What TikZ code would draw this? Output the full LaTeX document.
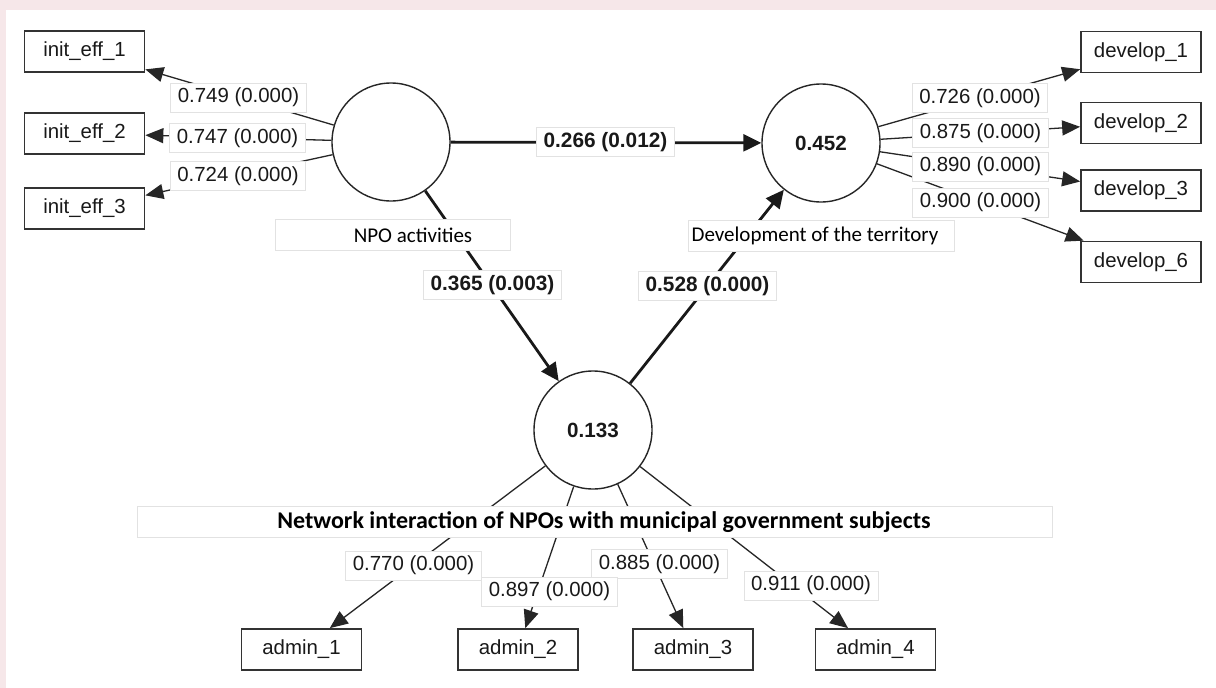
\documentclass[tikz,border=0pt]{standalone}
\usepackage{fontspec}
\setmainfont{Liberation Sans}
\newfontfamily\calfont{Carlito}
\usetikzlibrary{arrows.meta}
\definecolor{pinkbg}{RGB}{246,231,233}
\definecolor{lblborder}{RGB}{226,226,226}
\begin{document}
\begin{tikzpicture}[x=1pt,y=-1pt,
  every node/.style={font=\fontsize{20.4}{24}\selectfont, text=black!90},
  ind/.style={draw=black!80, line width=1.7pt, fill=white, minimum width=120pt, minimum height=41pt, inner sep=0pt},
  lv/.style={circle, draw=black!85, line width=1.4pt, fill=white, minimum size=118pt, inner sep=0pt, font=\fontsize{20.6}{24}\selectfont\bfseries},
  lbl/.style={draw=lblborder, line width=0.8pt, fill=white, inner xsep=7pt, inner ysep=0pt, minimum height=29pt},
  blbl/.style={lbl, font=\fontsize{20.8}{24}\selectfont\bfseries},
  load/.style={line width=1.3pt, draw=black!85, -{Triangle[length=18pt,width=15pt]}},
  struct/.style={line width=2.8pt, draw=black!90, -{Triangle[length=18pt,width=17pt]}},
  namebox/.style={draw=lblborder, line width=0.8pt, fill=white, inner sep=0pt, minimum height=31pt, font=\calfont\fontsize{21}{25}\selectfont, text=black},
]
\fill[pinkbg] (0,0) rectangle (1216,688);
\fill[white] (6,10) rectangle (1216,688);
\useasboundingbox (0,0) rectangle (1216,688);

% latent variables
\node[lv] (npo) at (391,142) {};
\node[lv] (dev) at (821,143) {0.452};
\node[lv] (net) at (593,430) {0.133};

% indicators
\node[ind] (ie1) at (84.5,51.5) {init\_eff\_1};
\node[ind] (ie2) at (84.5,133.5) {init\_eff\_2};
\node[ind] (ie3) at (84.5,208.5) {init\_eff\_3};
\node[ind] (d1) at (1141,52) {develop\_1};
\node[ind] (d2) at (1141,123) {develop\_2};
\node[ind] (d3) at (1141,190.5) {develop\_3};
\node[ind] (d6) at (1141,262) {develop\_6};
\node[ind] (a1) at (301.5,649.5) {admin\_1};
\node[ind] (a2) at (518,649.5) {admin\_2};
\node[ind] (a3) at (693,649.5) {admin\_3};
\node[ind] (a4) at (875.5,649.5) {admin\_4};

% connectors
\draw[load] (npo) -- (ie1);
\draw[load] (npo) -- (ie2);
\draw[load] (npo) -- (ie3);
\draw[load] (dev) -- (d1);
\draw[load] (dev) -- (d2);
\draw[load] (dev) -- (d3);
\draw[load] (dev) -- (d6);
\draw[load] (net) -- (a1);
\draw[load] (net) -- (a2);
\draw[load] (net) -- (a3);
\draw[load] (net) -- (a4);
\draw[struct] (npo) -- (dev);
\draw[struct] (npo) -- (net);
\draw[struct] (net) -- (dev);

% construct name boxes
\node[namebox, minimum width=235pt] (nponame) at (392.5,235) {\hspace*{41pt}NPO activities};
\node[namebox, minimum width=266pt] (devname) at (821,236) {Development of the territory\hspace*{12pt}};
\node[namebox, minimum width=915pt, font=\calfont\bfseries\fontsize{24}{28}\selectfont] (netname) at (594.5,522) {\hspace*{19pt}Network interaction of NPOs with municipal government subjects};

% loading labels
\node[lbl] (l749) at (238.5,97.5) {0.749 (0.000)};
\node[lbl] (l747) at (237.5,138) {0.747 (0.000)};
\node[lbl] (l724) at (238,176) {0.724 (0.000)};
\node[lbl] (l726) at (980,98) {0.726 (0.000)};
\node[lbl] (l875) at (980.5,133) {0.875 (0.000)};
\node[lbl] (l890) at (980.5,166.5) {0.890 (0.000)};
\node[lbl] (l900) at (980.5,202.5) {0.900 (0.000)};
\node[lbl] (l770) at (413.5,565.5) {0.770 (0.000)};
\node[lbl] (l885) at (659.5,564) {0.885 (0.000)};
\node[lbl] (l897) at (549.5,591.5) {0.897 (0.000)};
\node[lbl] (l911) at (811,585.5) {0.911 (0.000)};

% path labels
\node[blbl] (l266) at (605.5,142) {0.266 (0.012)};
\node[blbl] (l365) at (492.5,285) {0.365 (0.003)};
\node[blbl] (l528) at (707.5,286) {0.528 (0.000)};
\end{tikzpicture}
\end{document}
